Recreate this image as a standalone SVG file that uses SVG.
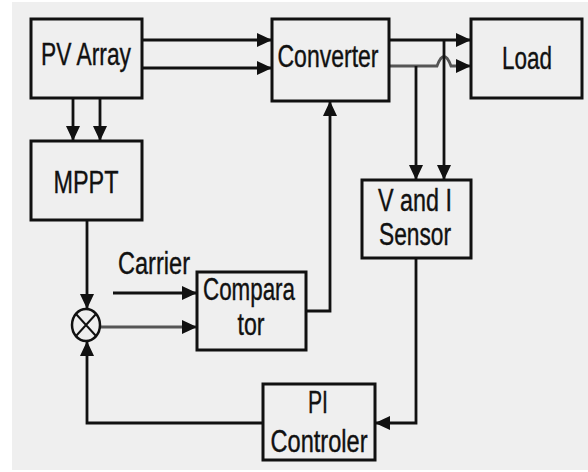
<svg xmlns="http://www.w3.org/2000/svg" width="588" height="472" viewBox="0 0 588 472">
<style>
.box{fill:#efefef;stroke:#111;stroke-width:3}
.lbl{font-family:"Liberation Sans",Arial,sans-serif;font-size:31px;fill:#111;stroke:#111;stroke-width:0.4}
.c{text-anchor:middle}
.ln{fill:none;stroke:#111;stroke-width:2.8}
.gr{fill:none;stroke:#555;stroke-width:2.8}
</style>
<defs>
<marker id="ah" markerUnits="userSpaceOnUse" markerWidth="16" markerHeight="16" viewBox="0 0 16 16" refX="15" refY="8" orient="auto">
<path d="M0,1 L15,8 L0,15 Z" fill="#111"/>
</marker>
</defs>
<rect x="0" y="0" width="588" height="472" fill="#ffffff"/>
<rect x="12" y="2" width="576" height="468" fill="#efefef"/>

<g id="connectors">
<path class="ln" d="M142,40 H272" marker-end="url(#ah)"/>
<path class="ln" d="M142,68 H272" marker-end="url(#ah)"/>
<path class="ln" d="M73,98 V141" marker-end="url(#ah)"/>
<path class="ln" d="M100,98 V141" marker-end="url(#ah)"/>
<path class="ln" d="M389,40 H471" marker-end="url(#ah)"/>
<path class="gr" d="M389,66 H437 Q444,47 451,66 H471" marker-end="url(#ah)"/>
<path class="ln" d="M416,66 V180" marker-end="url(#ah)"/>
<path class="ln" d="M444,40 V180" marker-end="url(#ah)"/>
<path class="ln" d="M416,258 V423 H375" marker-end="url(#ah)"/>
<path class="ln" d="M263,423 H87 V341" marker-end="url(#ah)"/>
<path class="ln" d="M87,220 V309" marker-end="url(#ah)"/>
<path class="ln" d="M113,293 H197" marker-end="url(#ah)"/>
<path class="gr" d="M100,327 H197" marker-end="url(#ah)"/>
<path class="ln" d="M306,311 H330 V101" marker-end="url(#ah)"/>
</g>

<g id="pv-array">
<rect class="box" x="31" y="19" width="111" height="79"/>
<text class="lbl c" x="86" y="65" textLength="90" lengthAdjust="spacingAndGlyphs">PV Array</text>
</g>
<g id="mppt">
<rect class="box" x="31" y="141" width="111" height="79"/>
<text class="lbl c" x="86" y="193" textLength="65" lengthAdjust="spacingAndGlyphs">MPPT</text>
</g>
<g id="converter">
<rect class="box" x="272" y="19" width="117" height="82"/>
<text class="lbl c" x="328" y="67" textLength="101" lengthAdjust="spacingAndGlyphs">Converter</text>
</g>
<g id="load">
<rect class="box" x="471" y="19" width="111" height="79"/>
<text class="lbl c" x="527" y="69" textLength="50" lengthAdjust="spacingAndGlyphs">Load</text>
</g>
<g id="sensor">
<rect class="box" x="362" y="180" width="109" height="78"/>
<text class="lbl c" x="415" y="211" textLength="74" lengthAdjust="spacingAndGlyphs">V and I</text>
<text class="lbl c" x="415" y="245" textLength="72" lengthAdjust="spacingAndGlyphs">Sensor</text>
</g>
<g id="comparator">
<rect class="box" x="197" y="272" width="109" height="78"/>
<text class="lbl c" x="249" y="300" textLength="92" lengthAdjust="spacingAndGlyphs">Compara</text>
<text class="lbl c" x="251" y="335" textLength="27" lengthAdjust="spacingAndGlyphs">tor</text>
</g>
<g id="pi-controller">
<rect class="box" x="263" y="384" width="112" height="76"/>
<text class="lbl c" x="318" y="413" textLength="20" lengthAdjust="spacingAndGlyphs">PI</text>
<text class="lbl c" x="319" y="452" textLength="97" lengthAdjust="spacingAndGlyphs">Controler</text>
</g>
<g id="multiplier">
<ellipse cx="86" cy="325" rx="14" ry="16" fill="#efefef" stroke="#111" stroke-width="2.5"/>
<path d="M76,314 L96,336 M96,314 L76,336" stroke="#111" stroke-width="2" fill="none"/>
</g>
<g id="carrier-label">
<text class="lbl" x="118" y="274" textLength="72" lengthAdjust="spacingAndGlyphs">Carrier</text>
</g>
</svg>
